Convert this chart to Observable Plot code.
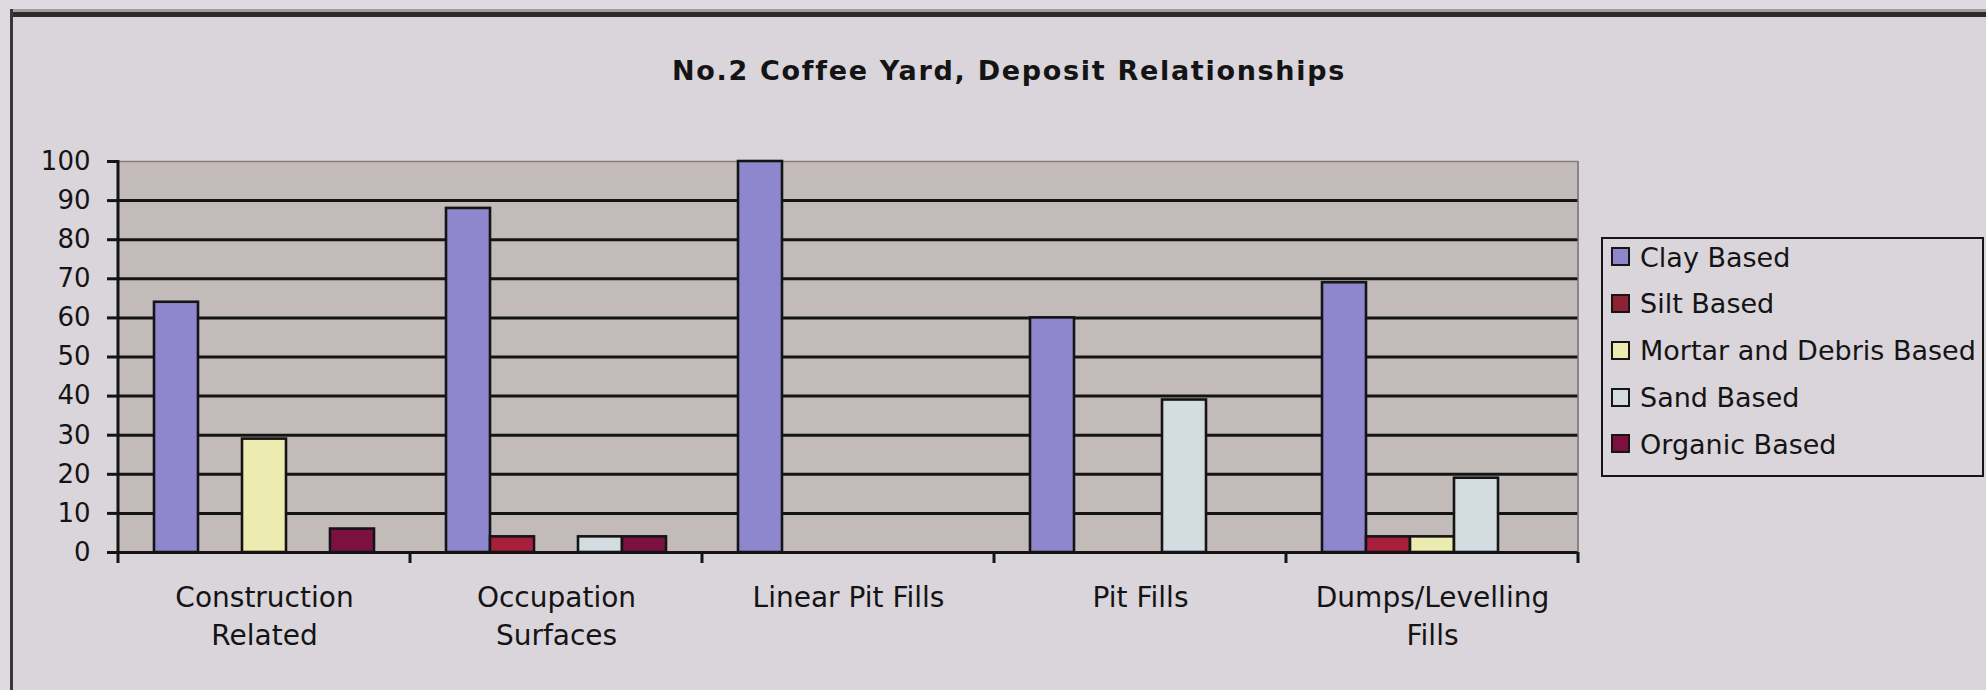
<!DOCTYPE html>
<html>
<head>
<meta charset="utf-8">
<script src="https://cdn.jsdelivr.net/npm/d3@7"></script>
<script src="https://cdn.jsdelivr.net/npm/@observablehq/plot@0.6"></script>
<style>
  html, body { margin: 0; padding: 0; background: #dedbe0; }
  #wrap { position: relative; width: 1986px; height: 690px; overflow: hidden; background: #dedbe0; font-family: "DejaVu Sans", sans-serif; }
  #panel { position: absolute; left: 11px; top: 9px; width: 2100px; height: 700px; background: #d9d5db; }
  #topline { position: absolute; left: 11px; top: 9px; width: 2100px; height: 3px; background: #a69c9e; }
  #topline2 { position: absolute; left: 11px; top: 12px; width: 2100px; height: 5px; background: #2f2a2b; }
  #leftline { position: absolute; left: 10px; top: 9px; width: 3px; height: 700px; background: #3a3536; }
  #title { position: absolute; left: 0; top: 55px; width: 2018px; height: 32px; line-height: 32px; text-align: center;
           font-family: "DejaVu Sans", sans-serif; font-weight: bold; font-size: 27px; letter-spacing: 1.7px; color: #141414; }
  #chart { position: absolute; left: 0; top: 110px; }
  #legend { position: absolute; left: 1601px; top: 237px; width: 383px; height: 240px; box-sizing: border-box;
            border: 2.5px solid #151515; background: #d9d5db; }
  #rows { position: absolute; left: 8px; top: -4.4px; }
  .row { height: 46.75px; line-height: 46.75px; font-size: 27px; color: #141414; white-space: nowrap; display: flex; align-items: center; }
  .sw { width: 15px; height: 15px; border: 2px solid #151515; margin-right: 10px; flex: none; position: relative; top: -1px; }
</style>
</head>
<body>
<div id="wrap">
  <div id="panel"></div>
  <div id="topline"></div>
  <div id="topline2"></div>
  <div id="leftline"></div>
  <div id="title"></div>
  <div id="chart"></div>
  <div id="legend"><div id="rows"></div></div>
</div>
<script>
// ---- data ----
const chartTitle = "No.2 Coffee Yard, Deposit Relationships";
const categories = ["Construction Related", "Occupation Surfaces", "Linear Pit Fills", "Pit Fills", "Dumps/Levelling Fills"];
const catLabels = ["Construction\nRelated", "Occupation\nSurfaces", "Linear Pit Fills", "Pit Fills", "Dumps/Levelling\nFills"];
const series = ["Clay Based", "Silt Based", "Mortar and Debris Based", "Sand Based", "Organic Based"];
const clayBased    = [64, 88, 100, 60, 69];
const siltBased    = [0, 4, 0, 0, 4];
const mortarBased  = [29, 0, 0, 0, 4];
const sandBased    = [0, 4, 0, 39, 19];
const organicBased = [6, 4, 0, 0, 0];
const yTicks = [0, 10, 20, 30, 40, 50, 60, 70, 80, 90, 100];
const seriesColors = ["#8f87cd", "#a81f3d", "#ecebb0", "#d3dce0", "#7c1140"];
const legendColors = ["#8f87cd", "#8e2235", "#ecebb0", "#d3dce0", "#7c1140"];

const seriesValues = [clayBased, siltBased, mortarBased, sandBased, organicBased];
const table = categories.flatMap((c, i) => series.map((s, j) => ({category: c, series: s, value: seriesValues[j][i]})));

document.getElementById("title").textContent = chartTitle;

const ink = "#141414";
const plotBg = "#c2bbba";

const chart = Plot.plot({
  width: 1986,
  height: 580,
  marginTop: 51,
  marginBottom: 138,
  marginLeft: 118,
  marginRight: 408,
  style: {fontFamily: "DejaVu Sans", background: "transparent", overflow: "visible", color: ink},
  fx: {domain: categories, padding: 0, axis: null},
  x: {domain: series, paddingInner: 0, paddingOuter: 0.75, axis: null},
  y: {domain: [0, 100], axis: null},
  color: {domain: series, range: seriesColors},
  marks: [
    Plot.frame({fill: plotBg, stroke: plotBg, strokeWidth: 1}),
    Plot.ruleY(yTicks.filter(t => t > 0 && t < 100), {stroke: ink, strokeWidth: 3}),
    Plot.ruleY([100], {stroke: "#8a7c7d", strokeWidth: 1.5}),
    Plot.barY(table.filter(d => d.value > 0), {fx: "category", x: "series", y: "value", fill: "series", stroke: ink, strokeWidth: 2.6}),
    Plot.ruleY([0], {stroke: ink, strokeWidth: 3}),
    Plot.axisY({ticks: yTicks, tickSize: 11, tickPadding: 17, fontSize: 26, stroke: ink, strokeWidth: 3, fill: ink, label: null}),
    Plot.text(categories, {fx: d => d, text: (d, i) => catLabels[i], frameAnchor: "bottom", lineAnchor: "top", dy: 27,
      fontSize: 28, lineHeight: 1.36, fill: ink})
  ]
});

// category-boundary ticks, y-axis line and right border, derived from the plot's scales
const fx = chart.scale("fx");
const ys = chart.scale("y");
const lefts = categories.map(c => fx.apply(c));
const bw = fx.bandwidth ?? (lefts[1] - lefts[0]);
const bounds = [...lefts, lefts[lefts.length - 1] + bw];
const y0 = ys.apply(0), y100 = ys.apply(100);
const svg = d3.select(chart);
const g = svg.append("g");
g.append("line").attr("x1", bounds[bounds.length - 1]).attr("x2", bounds[bounds.length - 1])
  .attr("y1", y100).attr("y2", y0).attr("stroke", "#7d6f70").attr("stroke-width", 1.5);
g.append("line").attr("x1", bounds[0]).attr("x2", bounds[0])
  .attr("y1", y100 - 1).attr("y2", y0 + 11).attr("stroke", ink).attr("stroke-width", 3);
g.selectAll("line.bt").data(bounds.slice(1)).join("line").attr("class", "bt")
  .attr("x1", d => d).attr("x2", d => d).attr("y1", y0).attr("y2", y0 + 11)
  .attr("stroke", ink).attr("stroke-width", 3);

document.getElementById("chart").appendChild(chart);

// legend
const rows = d3.select("#rows");
series.forEach((s, i) => {
  const r = rows.append("div").attr("class", "row");
  r.append("div").attr("class", "sw").style("background", legendColors[i]);
  r.append("span").text(s);
});
</script>
</body>
</html>
